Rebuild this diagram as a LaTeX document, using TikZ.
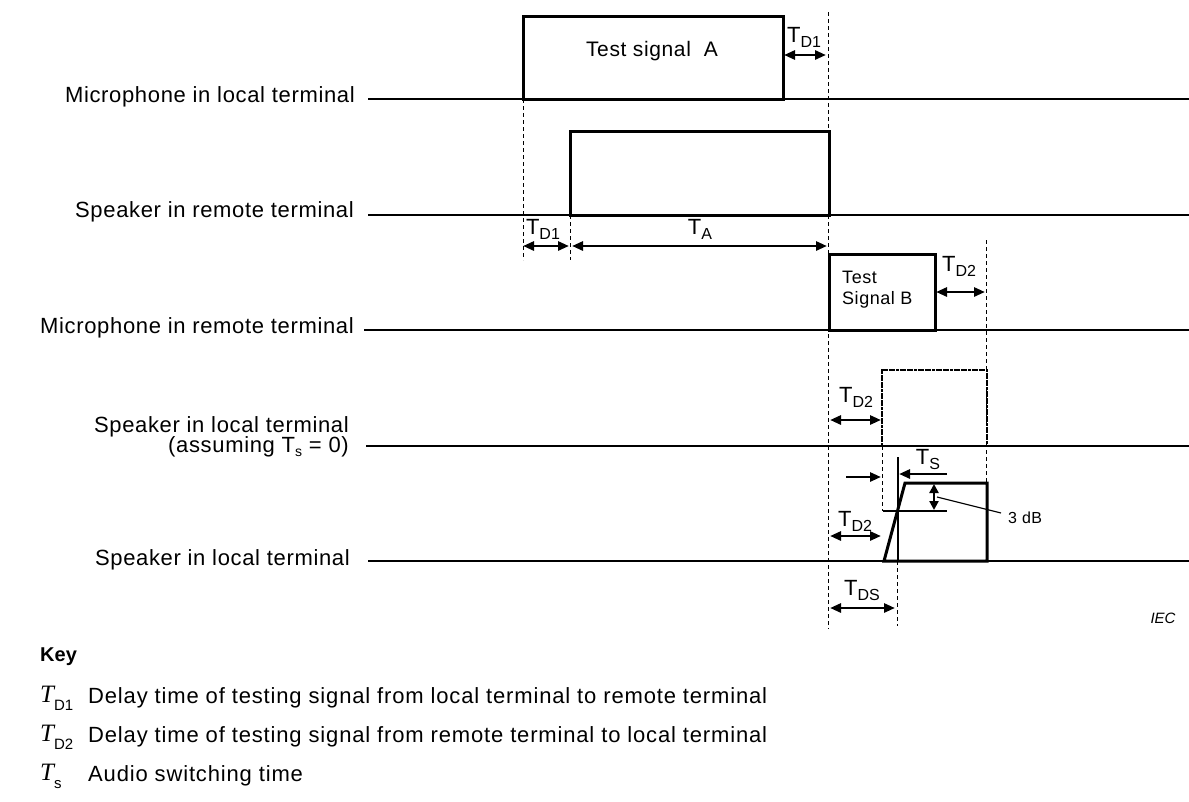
\documentclass[tikz,border=0pt]{standalone}
\usepackage{fontspec}
\setmainfont{Liberation Sans}
\newfontfamily\lblfont{Liberation Sans}[LetterSpace=3]
\newfontfamily\keyfont{Liberation Sans}[LetterSpace=3.8]
\newfontfamily\tfont{Liberation Serif}
\usetikzlibrary{arrows.meta}
\newcommand\Tsub[1]{T\raisebox{-5pt}{\fontsize{16}{16}\selectfont #1}}
\newcommand\Ksym[1]{{\fontsize{25}{25}\tfont\itshape T}\raisebox{-8pt}{\fontsize{15}{15}\selectfont #1}}
\begin{document}
\begin{tikzpicture}[x=1pt,y=-1pt,
  base/.style={line width=2.2pt},
  wave/.style={line width=3pt, line join=miter},
  wavedot/.style={line width=2.8pt, line join=miter, dash pattern=on 3pt off 0.6pt},
  guide/.style={line width=1pt, dash pattern=on 4pt off 3pt},
  thin/.style={line width=1.2pt},
  dim/.style={line width=2.7pt, {Triangle[length=11pt,width=9pt]}-{Triangle[length=11pt,width=9pt]}},
  dimr/.style={line width=2.7pt, -{Triangle[length=11pt,width=9pt]}},
  dimv/.style={line width=2.7pt, {Triangle[length=9pt,width=9pt]}-{Triangle[length=9pt,width=9pt]}},
  rowlabel/.style={anchor=east, inner sep=0pt, font=\lblfont\fontsize{22}{22}\selectfont},
  tlabel/.style={inner sep=0pt, font=\fontsize{22}{22}\selectfont},
  keysym/.style={anchor=west, inner sep=0pt},
  keytext/.style={anchor=west, inner sep=0pt, font=\keyfont\fontsize{22}{22}\selectfont},
]
\useasboundingbox (0,0) rectangle (1189,801);

% ---------- row labels ----------
\node[rowlabel] (L1) at (355,97) {Microphone in local terminal};
\node[rowlabel] (L2) at (354,212) {Speaker in remote terminal};
\node[rowlabel] (L3) at (354,328) {Microphone in remote terminal};
\node[rowlabel] (L4a) at (349,427) {Speaker in local terminal};
\node[rowlabel] (L4b) at (349,447) {(assuming T\raisebox{-4pt}{\fontsize{14}{14}\selectfont s} = 0)};
\node[rowlabel] (L5) at (350,560) {Speaker in local terminal};

% ---------- base lines ----------
\coordinate (b1s) at (368,99);  \coordinate (b1e) at (1189,99);
\coordinate (b2s) at (368,215); \coordinate (b2e) at (1189,215);
\coordinate (b3s) at (364,330); \coordinate (b3e) at (1189,330);
\coordinate (b4s) at (366,446); \coordinate (b4e) at (1189,446);
\coordinate (b5s) at (368,561); \coordinate (b5e) at (1189,561);
\draw[base] (b1s) -- (b1e);
\draw[base] (b2s) -- (b2e);
\draw[base] (b3s) -- (b3e);
\draw[base] (b4s) -- (b4e);
\draw[base] (b5s) -- (b5e);

% ---------- guide lines ----------
\coordinate (gA1) at (523,99);  \coordinate (gA2) at (523,260);
\coordinate (gB1) at (570,215); \coordinate (gB2) at (570,260);
\coordinate (gC1) at (828,12);  \coordinate (gC2) at (828,629);
\coordinate (gD1) at (986,240); \coordinate (gD2) at (986,483);
\coordinate (gE1) at (882,446); \coordinate (gE2) at (882,511);
\coordinate (gF1) at (897,561); \coordinate (gF2) at (897,626);
\draw[guide] (gA1) -- (gA2);
\draw[guide] (gB1) -- (gB2);
\draw[guide] (gC1) -- (gC2);
\draw[guide] (gD1) -- (gD2);
\draw[guide] (gE1) -- (gE2);
\draw[guide] (gF1) -- (gF2);

% ---------- waveforms ----------
\draw[wave] (523,99) rectangle (783,16);
\node[inner sep=0pt, font=\lblfont\fontsize{21}{21}\selectfont] (tA) at (652,51) {Test signal~~A};

\draw[wave] (570,215) rectangle (829,131);

\draw[wave] (829,330) rectangle (935,254);
\node[anchor=west, inner sep=0pt, align=left, font=\lblfont\fontsize{18}{21}\selectfont] (tB) at (842,290) {Test\\Signal B};

\draw[wavedot] (882,446) rectangle (987,370);

\coordinate (r0) at (884,561);
\coordinate (r1) at (905,483);
\coordinate (r2) at (987,483);
\coordinate (r3) at (987,561);
\draw[wave] (r0) -- (r1) -- (r2) -- (r3) -- cycle;

% ---------- dimension arrows ----------
\coordinate (d1a) at (784,55); \coordinate (d1b) at (826,55);
\draw[dim] (d1a) -- (d1b);
\node[tlabel] (l1) at (804,37) {\Tsub{D1}};

\coordinate (d2a) at (523,246); \coordinate (d2b) at (569,246);
\draw[dim] (d2a) -- (d2b);
\node[tlabel] (l2) at (543,229) {\Tsub{D1}};

\coordinate (d3a) at (572,246); \coordinate (d3b) at (827,246);
\draw[dim] (d3a) -- (d3b);
\node[tlabel] (l3) at (700,229) {\Tsub{A}};

\coordinate (d4a) at (936,292); \coordinate (d4b) at (985,292);
\draw[dim] (d4a) -- (d4b);
\node[tlabel] (l4) at (959,266) {\Tsub{D2}};

\coordinate (d5a) at (830,420); \coordinate (d5b) at (881,420);
\draw[dim] (d5a) -- (d5b);
\node[tlabel] (l5) at (856,397) {\Tsub{D2}};

\coordinate (d6a) at (830,536); \coordinate (d6b) at (881,536);
\draw[dim] (d6a) -- (d6b);
\node[tlabel] (l6) at (855,521) {\Tsub{D2}};

\coordinate (d7a) at (830,608); \coordinate (d7b) at (895,608);
\draw[dim] (d7a) -- (d7b);
\node[tlabel] (l7) at (862,591) {\Tsub{DS}};

% T_S construction
\coordinate (v1) at (898,457); \coordinate (v2) at (898,561);
\draw[thin] (v1) -- (v2);
\coordinate (h1) at (883,511); \coordinate (h2) at (947,511);
\draw[thin] (h1) -- (h2);
\coordinate (s1) at (947,474); \coordinate (s2) at (899,474);
\draw[dimr] (s1) -- (s2);
\node[tlabel] (l8) at (928,460) {\Tsub{S}};
\coordinate (s3) at (846,477); \coordinate (s4) at (881,477);
\draw[dimr] (s3) -- (s4);

% 3 dB
\coordinate (db1) at (934,484); \coordinate (db2) at (934,510);
\draw[dimv] (db1) -- (db2);
\node[anchor=west, inner sep=0pt, font=\lblfont\fontsize{16}{16}\selectfont] (db) at (1008,518) {3 dB};
\coordinate (lead) at (937,497);
\draw[thin] (lead) -- ([xshift=-7pt,yshift=5pt]db.west);

\node[inner sep=0pt, font=\fontsize{15}{15}\selectfont\itshape] (iec) at (1163,618) {IEC};

% ---------- key ----------
\node[anchor=west, inner sep=0pt, font=\bfseries\fontsize{20}{20}\selectfont] (key) at (40,657) {Key};
\node[keysym] (k1) at (40,698) {\Ksym{D1}};
\node[keytext] (k1t) at (88,698) {Delay time of testing signal from local terminal to remote terminal};
\node[keysym] (k2) at (40,737) {\Ksym{D2}};
\node[keytext] (k2t) at (88,737) {Delay time of testing signal from remote terminal to local terminal};
\node[keysym] (k3) at (40,776) {\Ksym{s}};
\node[keytext] (k3t) at (88,776) {Audio switching time};
\end{tikzpicture}
\end{document}
